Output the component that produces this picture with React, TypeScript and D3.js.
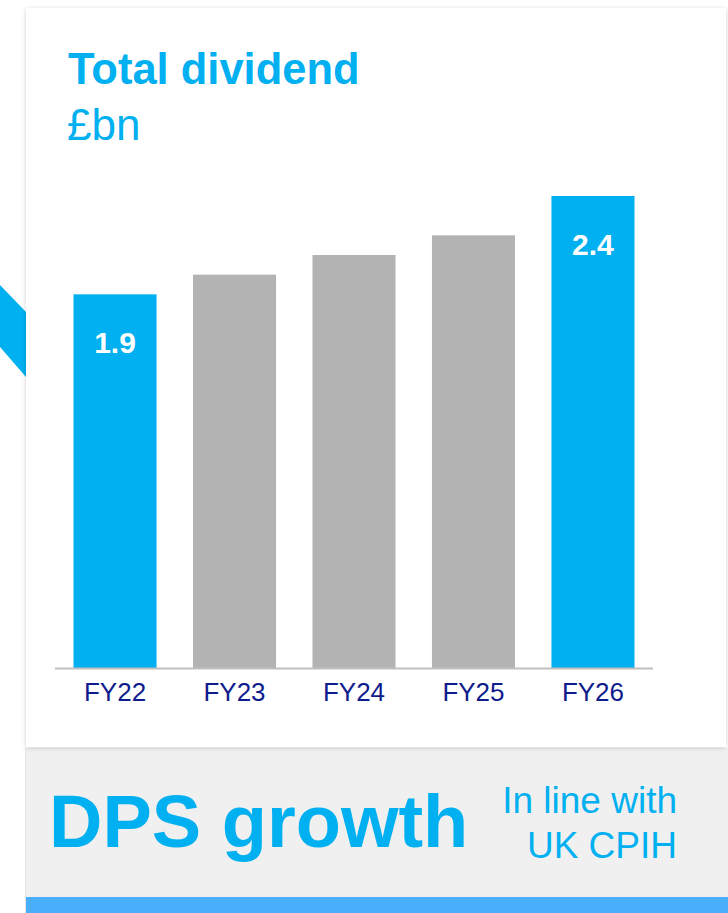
import React from "react";
import * as d3 from "d3";

const categories = ["FY22", "FY23", "FY24", "FY25", "FY26"];
const values = [1.9, 2.0, 2.1, 2.2, 2.4];
const highlighted = [true, false, false, false, true];
const valueLabels = ["1.9", "", "", "", "2.4"];

const W = 728;
const H = 913;
const BLUE = "#00b0f0";
const GREY_BAR = "#b3b3b3";
const NAVY = "#0e1c8c";
const FONT = "'Liberation Sans', Arial, sans-serif";

export default function App() {
  const baseline = 668;
  const x = d3
    .scaleBand<string>()
    .domain(categories)
    .range([55, 653])
    .paddingInner(0.305)
    .paddingOuter(0.155);
  const y = d3.scaleLinear().domain([0, 2.4]).range([baseline, 196]);

  return (
    <svg
      width={W}
      height={H}
      style={{ position: "absolute", left: 0, top: 0, background: "#fff" }}
      fontFamily={FONT}
    >
      <defs>
        <filter id="sh" x="-5%" y="-5%" width="110%" height="110%">
          <feDropShadow dx="0" dy="1" stdDeviation="2" floodColor="#000" floodOpacity="0.18" />
        </filter>
      </defs>
      <rect x={0} y={0} width={W} height={H} fill="#fff" />
      {/* diagonal stripe behind card */}
      <polygon points="0,285 26,312 26,377 0,347" fill={BLUE} />
      {/* grey lower panel */}
      <rect x={26} y={748} width={702} height={150} fill="#f0f0f0" />
      <rect x={25} y={748} width={1} height={165} fill="#e6e6e6" />
      {/* card */}
      <rect x={26} y={8} width={700} height={739} fill="#fff" filter="url(#sh)" />
      {/* bottom blue bar */}
      <rect x={26} y={897} width={702} height={16} fill="#4aaffa" />

      <text x={68} y={84} fill={BLUE} fontSize={43.5} fontWeight="bold">
        Total dividend
      </text>
      <text x={67} y={140} fill={BLUE} fontSize={44}>
        £bn
      </text>

      {categories.map((c, i) => (
        <g key={c}>
          <rect
            x={x(c)}
            y={y(values[i])}
            width={x.bandwidth()}
            height={baseline - y(values[i])}
            fill={highlighted[i] ? BLUE : GREY_BAR}
          />
          {valueLabels[i] && (
            <text
              x={(x(c) as number) + x.bandwidth() / 2}
              y={y(values[i]) + 59}
              textAnchor="middle"
              fill="#fff"
              fontSize={30}
              fontWeight="bold"
            >
              {valueLabels[i]}
            </text>
          )}
          <text
            x={(x(c) as number) + x.bandwidth() / 2}
            y={701}
            textAnchor="middle"
            fill={NAVY}
            fontSize={26}
          >
            {c}
          </text>
        </g>
      ))}
      <line x1={55} x2={653} y1={baseline + 0.5} y2={baseline + 0.5} stroke="#bfbfbf" strokeWidth={2} />

      <text x={49} y={847} fill={BLUE} fontSize={74} fontWeight="bold">
        DPS growth
      </text>
      <text x={677} y={813} fill={BLUE} fontSize={37} textAnchor="end">
        In line with
      </text>
      <text x={677} y={858} fill={BLUE} fontSize={37} textAnchor="end">
        UK CPIH
      </text>
    </svg>
  );
}
